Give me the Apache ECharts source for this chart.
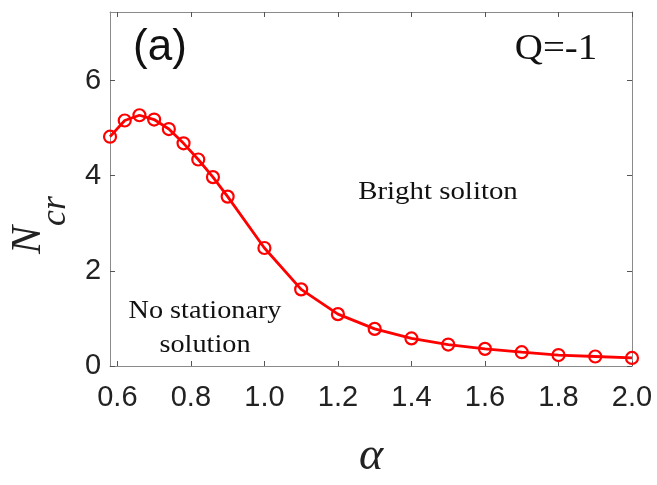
<!DOCTYPE html>
<html>
<head>
<meta charset="utf-8">
<script src="https://cdn.jsdelivr.net/npm/echarts@6/dist/echarts.min.js"></script>
<style>html,body{margin:0;padding:0;background:#fff;}#c{width:657px;height:485px;}</style>
</head>
<body>
<div id="c"></div>
<script>
var alpha = [0.58, 0.62, 0.66, 0.70, 0.74, 0.78, 0.82, 0.86, 0.90, 1.0, 1.1, 1.2, 1.3, 1.4, 1.5, 1.6, 1.7, 1.8, 1.9, 2.0];
var ncr = [4.82, 5.16, 5.27, 5.18, 4.98, 4.68, 4.34, 3.97, 3.56, 2.48, 1.61, 1.09, 0.78, 0.58, 0.45, 0.36, 0.29, 0.23, 0.20, 0.17];
var xTicks = [0.6, 0.8, 1.0, 1.2, 1.4, 1.6, 1.8, 2.0];
var yTicks = [0, 2, 4, 6];

var chart = echarts.init(document.getElementById('c'), null, {renderer: 'canvas'});
var axisGray = '#8a8a8a';
var serif = 'Liberation Serif';
var sans = 'Liberation Sans';

function xAxisBase(pos, showLabels) {
  return {
    type: 'value', position: pos, min: 0.58, max: 2.0,
    axisLine: {show: true, onZero: false, lineStyle: {color: axisGray, width: 1}},
    axisTick: {show: true, inside: true, length: 5, customValues: xTicks, lineStyle: {color: '#555', width: 1}},
    axisLabel: {show: showLabels, customValues: xTicks, margin: 17, color: '#222', fontFamily: sans, fontSize: 29,
      formatter: function (v) { return v.toFixed(1); }},
    splitLine: {show: false}
  };
}
function yAxisBase(pos, showLabels) {
  return {
    type: 'value', position: pos, min: 0, max: 7.44,
    axisLine: {show: true, onZero: false, lineStyle: {color: axisGray, width: 1}},
    axisTick: {show: true, inside: true, length: 5, customValues: yTicks, lineStyle: {color: '#555', width: 1}},
    axisLabel: {show: showLabels, customValues: yTicks, margin: 9, color: '#222', fontFamily: sans, fontSize: 29,
      formatter: function (v) { return String(v); }},
    splitLine: {show: false}
  };
}

var xb = xAxisBase('bottom', true);
xb.name = '{a|\u03b1}';
xb.nameLocation = 'middle';
xb.nameGap = 68;
xb.nameTextStyle = {rich: {a: {fontFamily: serif, fontStyle: 'italic', fontSize: 46, color: '#222'}}};
var xt = xAxisBase('top', false);

var yl = yAxisBase('left', true);
yl.name = '{n|N}{s|cr}';
yl.nameLocation = 'middle';
yl.nameRotate = 90;
yl.nameGap = 38;
yl.nameTextStyle = {
  padding: [0, 72, 0, 0],
  rich: {
    n: {fontFamily: serif, fontStyle: 'italic', fontSize: 42, lineHeight: 42, verticalAlign: 'top', color: '#222'},
    s: {fontFamily: serif, fontStyle: 'italic', fontSize: 36, lineHeight: 36, verticalAlign: 'top', padding: [30, 0, 0, 0], color: '#222'}
  }
};
var yr = yAxisBase('right', false);

var option = {
  backgroundColor: '#fff',
  animation: false,
  grid: {left: 106, right: 25, top: 12, bottom: 112, containLabel: false},
  xAxis: [xb, xt],
  yAxis: [yl, yr],
  series: [{
    type: 'line',
    xAxisIndex: 0, yAxisIndex: 0,
    data: alpha.map(function (a, i) { return [a, ncr[i]]; }),
    symbol: 'circle',
    symbolSize: 12,
    lineStyle: {color: '#ff0000', width: 2.8},
    itemStyle: {color: 'rgba(255,255,255,0)', borderColor: '#ff0000', borderWidth: 2.2},
    clip: false
  }],
  graphic: [
    {type: 'text', x: 160, y: 48, style: {text: '(a)', font: '44px "Liberation Sans"', fill: '#111', align: 'center', verticalAlign: 'middle'}},
    {type: 'text', x: 556, y: 50, scaleX: 1.08, style: {text: 'Q=-1', font: '36px "Liberation Serif"', fill: '#111', align: 'center', verticalAlign: 'middle'}},
    {type: 'text', x: 438, y: 192, scaleX: 1.11, style: {text: 'Bright soliton', font: '26px "Liberation Serif"', fill: '#111', align: 'center', verticalAlign: 'middle'}},
    {type: 'text', x: 205, y: 328, scaleX: 1.13, style: {text: 'No stationary\nsolution', font: '25px "Liberation Serif"', lineHeight: 34, fill: '#111', align: 'center', verticalAlign: 'middle'}}
  ]
};
chart.setOption(option);
</script>
</body>
</html>
